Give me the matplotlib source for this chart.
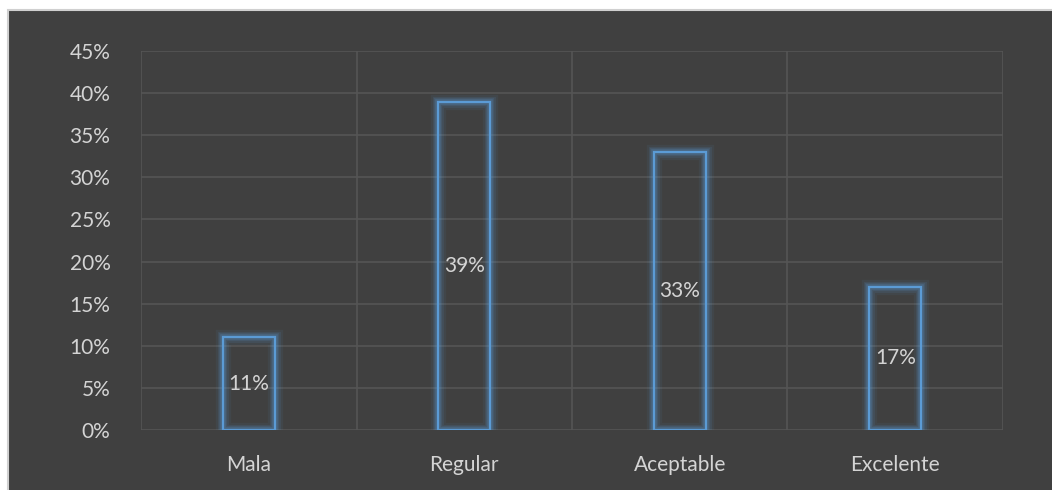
import matplotlib.pyplot as plt
from matplotlib.patches import Rectangle
from matplotlib.ticker import PercentFormatter, FixedLocator

categories = ["Mala", "Regular", "Aceptable", "Excelente"]
values = [11, 39, 33, 17]
y_ticks = [0, 5, 10, 15, 20, 25, 30, 35, 40, 45]

BG = "#404040"
GRID = "#555555"
BLUE = "#5b9bd5"
TXT = "#d4d4d4"

plt.rcParams['font.family'] = ['Lato', 'DejaVu Sans']

fig = plt.figure(figsize=(10.52, 4.9), dpi=100, facecolor="white")
# dark chart panel with thin light border (left and top only visible)
fig.patches.append(Rectangle((8 / 1052, -0.05), 1.1, 1.05 - 10 / 490,
                             transform=fig.transFigure, facecolor=BG,
                             edgecolor="#d0d0d0", linewidth=1.5, zorder=-10))

ax = fig.add_axes([141 / 1052, 60 / 490, (1003 - 141) / 1052, (430 - 51) / 490])
ax.set_zorder(1)
ax.patch.set_alpha(0)

x = range(len(categories))
width = 0.24

# glow
for lw, a in [(11, 0.07), (8, 0.1), (6, 0.14), (4, 0.22)]:
    ax.bar(x, values, width=width, fill=False, edgecolor=BLUE, linewidth=lw,
           alpha=a, zorder=3)
bars = ax.bar(x, values, width=width, fill=False, edgecolor=BLUE,
              linewidth=1.6, zorder=4)

for i, v in enumerate(values):
    ax.text(i, v / 2, f"{v}%", ha="center", va="center", color=TXT,
            fontsize=15, zorder=5)

ax.set_xlim(-0.5, len(categories) - 0.5)
ax.set_ylim(0, 45)
ax.set_yticks(y_ticks)
ax.yaxis.set_major_formatter(PercentFormatter(decimals=0))
ax.set_xticks(list(x))
ax.set_xticklabels(categories)
ax.xaxis.set_minor_locator(FixedLocator([i - 0.5 for i in range(len(categories) + 1)]))

ax.tick_params(axis="both", which="both", length=0, colors=TXT, labelsize=15)
ax.tick_params(axis="y", pad=22)
ax.tick_params(axis="x", pad=18)

ax.grid(axis="y", which="major", color=GRID, linewidth=1.2, zorder=1)
ax.grid(axis="x", which="minor", color=GRID, linewidth=1.2, zorder=1)
ax.set_axisbelow(True)
for s in ax.spines.values():
    s.set_visible(False)

fig.savefig("out.png", dpi=100, facecolor="white")
